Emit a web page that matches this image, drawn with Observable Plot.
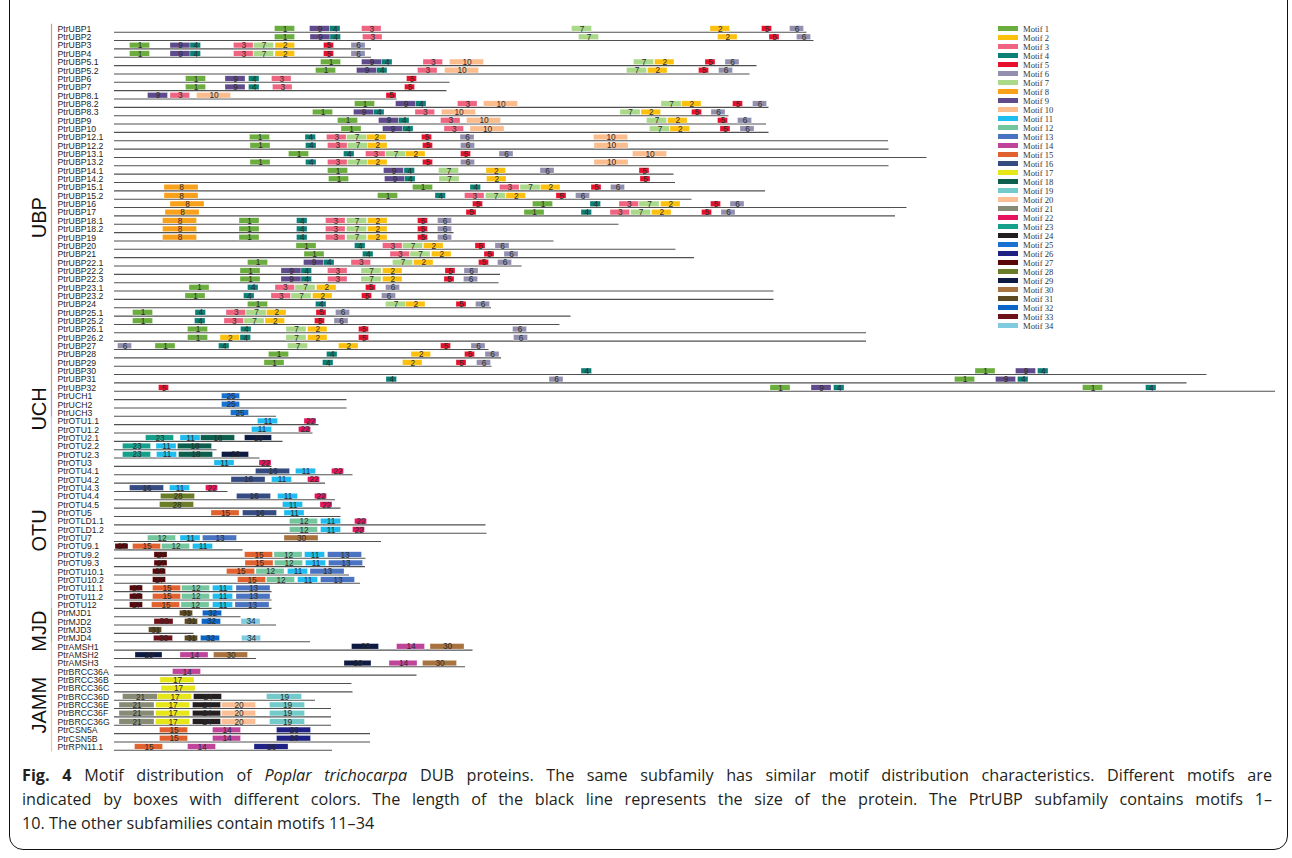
<!DOCTYPE html>
<html>
<head>
<meta charset="utf-8">
<script src="https://cdn.jsdelivr.net/npm/d3@7"></script>
<script src="https://cdn.jsdelivr.net/npm/@observablehq/plot@0.6"></script>
<style>
  html, body { margin: 0; padding: 0; background: #fff; }
  body { width: 1292px; height: 858px; position: relative; overflow: hidden; font-family: "Liberation Sans", Arial, sans-serif; }
  #frame { position: absolute; left: 9px; top: -20px; width: 1279px; height: 870px; border: 1.6px solid #111; border-radius: 14px; box-sizing: border-box; pointer-events: none; }
  #chart { position: absolute; left: 0; top: 0; }
  #legend { position: absolute; left: 998px; top: 24px; font-family: "Liberation Serif", "DejaVu Serif", serif; font-size: 8.6px; color: #333; }
  #legend .item { height: 9px; display: flex; align-items: center; white-space: nowrap; }
  #legend .sw { width: 20px; height: 5px; margin-right: 5px; }
  #caption { position: absolute; left: 22px; top: 763px; width: 1250px; font-family: "Open Sans", "Noto Sans", sans-serif; font-size: 16.2px; line-height: 24px; color: #231f20; }
  #caption .l { display: block; white-space: nowrap; }
  #caption .j { text-align: justify; text-align-last: justify; white-space: normal; }
</style>
</head>
<body>
<div id="chart"></div>
<div id="legend"></div>
<div id="caption">
  <span class="l j"><b>Fig. 4</b> Motif distribution of <i>Poplar trichocarpa</i> DUB proteins. The same subfamily has similar motif distribution characteristics. Different motifs are</span>
  <span class="l j">indicated by boxes with different colors. The length of the black line represents the size of the protein. The PtrUBP subfamily contains motifs 1–</span>
  <span class="l">10. The other subfamilies contain motifs 11–34</span>
</div>
<div id="frame"></div>
<script>
// Protein names, top to bottom
const proteins = [
  "PtrUBP1","PtrUBP2","PtrUBP3","PtrUBP4","PtrUBP5.1","PtrUBP5.2","PtrUBP6","PtrUBP7","PtrUBP8.1","PtrUBP8.2",
  "PtrUBP8.3","PtrUBP9","PtrUBP10","PtrUBP12.1","PtrUBP12.2","PtrUBP13.1","PtrUBP13.2","PtrUBP14.1","PtrUBP14.2","PtrUBP15.1",
  "PtrUBP15.2","PtrUBP16","PtrUBP17","PtrUBP18.1","PtrUBP18.2","PtrUBP19","PtrUBP20","PtrUBP21","PtrUBP22.1","PtrUBP22.2",
  "PtrUBP22.3","PtrUBP23.1","PtrUBP23.2","PtrUBP24","PtrUBP25.1","PtrUBP25.2","PtrUBP26.1","PtrUBP26.2","PtrUBP27","PtrUBP28",
  "PtrUBP29","PtrUBP30","PtrUBP31","PtrUBP32",
  "PtrUCH1","PtrUCH2","PtrUCH3",
  "PtrOTU1.1","PtrOTU1.2","PtrOTU2.1","PtrOTU2.2","PtrOTU2.3","PtrOTU3","PtrOTU4.1","PtrOTU4.2","PtrOTU4.3","PtrOTU4.4",
  "PtrOTU4.5","PtrOTU5","PtrOTLD1.1","PtrOTLD1.2","PtrOTU7","PtrOTU9.1","PtrOTU9.2","PtrOTU9.3","PtrOTU10.1","PtrOTU10.2",
  "PtrOTU11.1","PtrOTU11.2","PtrOTU12",
  "PtrMJD1","PtrMJD2","PtrMJD3","PtrMJD4",
  "PtrAMSH1","PtrAMSH2","PtrAMSH3","PtrBRCC36A","PtrBRCC36B","PtrBRCC36C","PtrBRCC36D","PtrBRCC36E","PtrBRCC36F","PtrBRCC36G",
  "PtrCSN5A","PtrCSN5B","PtrRPN11.1"
];

// Protein lengths (aa)
const lengths = [
  1385,1399,514,514,1285,1271,671,665,565,1309,
  1229,1304,1309,1548,1549,1625,1549,1119,1122,1302,
  1155,1585,1562,1009,679,879,1123,1160,815,772,
  769,1319,1319,754,913,891,1504,1504,749,774,
  755,2185,2145,2322,
  465,465,324,
  409,397,337,205,291,315,477,422,227,442,
  453,453,743,745,534,257,503,502,470,492,
  315,315,315,
  253,324,159,392,
  717,284,702,605,475,477,402,434,434,434,
  512,512,436
];

// Motif sites per protein: [motif number, start position (aa)]
const sites = [
  [[1,321],[9,391],[4,431],[3,495],[7,915],[2,1192],[5,1295],[6,1351]],
  [[1,321],[9,392],[4,432],[3,497],[7,929],[2,1207],[5,1310],[6,1365]],
  [[1,31],[9,112],[4,152],[3,239],[7,279],[2,322],[5,419],[6,474]],
  [[1,31],[9,112],[4,152],[3,239],[7,279],[2,322],[5,419],[6,474]],
  [[1,413],[9,495],[4,535],[3,618],[10,671],[7,1039],[2,1081],[5,1182],[6,1222]],
  [[1,403],[9,485],[4,525],[3,607],[10,661],[7,1025],[2,1067],[5,1169],[6,1209]],
  [[1,143],[9,222],[4,269],[3,315],[5,585]],
  [[1,143],[9,222],[4,269],[3,317],[5,581]],
  [[9,67],[3,112],[10,165],[5,544]],
  [[1,481],[9,563],[4,603],[3,687],[10,739],[7,1094],[2,1135],[5,1237],[6,1277]],
  [[1,397],[9,479],[4,519],[3,602],[10,655],[7,1012],[2,1054],[5,1155],[6,1194]],
  [[1,447],[9,529],[4,569],[3,653],[10,705],[7,1065],[2,1107],[5,1207],[6,1247]],
  [[1,454],[9,537],[4,577],[3,660],[10,712],[7,1071],[2,1112],[5,1212],[6,1252]],
  [[1,271],[4,382],[3,425],[7,465],[2,505],[5,615],[6,692],[10,959]],
  [[1,272],[4,383],[3,427],[7,467],[2,507],[5,617],[6,693],[10,960]],
  [[1,349],[4,459],[3,503],[7,543],[2,583],[5,693],[6,770],[10,1037]],
  [[1,272],[4,383],[3,427],[7,467],[2,507],[5,617],[6,693],[10,960]],
  [[1,427],[9,539],[4,580],[7,649],[2,744],[6,852],[5,1050]],
  [[1,429],[9,541],[4,581],[7,650],[2,745],[5,1052]],
  [[8,100],[1,597],[4,712],[3,771],[7,812],[2,853],[5,954],[6,993]],
  [[8,100],[1,527],[4,642],[3,701],[7,743],[2,784],[5,884],[6,923]],
  [[8,112],[5,717],[1,837],[4,952],[3,1010],[7,1050],[2,1093],[5,1193],[6,1232]],
  [[8,102],[5,704],[1,820],[4,934],[3,992],[7,1033],[2,1075],[5,1175],[6,1214]],
  [[8,97],[1,250],[4,365],[3,423],[7,465],[2,507],[5,607],[6,647]],
  [[8,97],[1,250],[4,365],[3,423],[7,465],[2,507],[5,607],[6,647]],
  [[8,97],[1,250],[4,365],[3,423],[7,465],[2,507],[5,607],[6,647]],
  [[1,364],[4,481],[3,537],[7,577],[2,619],[5,722],[6,762]],
  [[1,380],[4,497],[3,552],[7,592],[2,635],[5,740],[6,780]],
  [[1,267],[9,379],[4,419],[3,474],[7,557],[2,599],[5,729],[6,767]],
  [[1,252],[9,334],[4,374],[3,427],[7,494],[2,537],[5,662],[6,700]],
  [[1,252],[9,334],[4,374],[3,427],[7,494],[2,537],[5,660],[6,699]],
  [[1,150],[4,267],[3,322],[7,362],[2,405],[5,503],[6,543]],
  [[1,142],[4,259],[3,314],[7,354],[2,397],[5,495],[6,535]],
  [[1,267],[4,403],[7,543],[2,583],[5,684],[6,723]],
  [[1,37],[4,162],[3,224],[7,264],[2,305],[5,404],[6,443]],
  [[1,37],[4,161],[3,220],[7,260],[2,302],[5,401],[6,440]],
  [[1,147],[4,253],[7,344],[2,387],[5,489],[6,797]],
  [[1,147],[2,212],[4,252],[7,344],[2,387],[5,489],[6,799]],
  [[6,7],[1,82],[4,209],[7,347],[2,449],[5,653],[6,714]],
  [[1,309],[4,425],[2,594],[5,701],[6,742]],
  [[1,300],[4,417],[2,577],[5,684],[6,725]],
  [[4,934],[1,1722],[9,1803],[4,1847]],
  [[4,544],[6,870],[1,1681],[9,1763],[4,1807]],
  [[5,89],[1,1312],[9,1394],[4,1439],[1,1937],[4,2063]],
  [[25,215]],
  [[25,215]],
  [[25,233]],
  [[11,287],[22,380]],
  [[11,275],[22,369]],
  [[23,63],[11,132],[18,173],[29,261]],
  [[23,17],[11,84],[18,127]],
  [[23,17],[11,85],[18,129],[29,215]],
  [[11,200],[22,290]],
  [[16,283],[11,363],[22,435]],
  [[16,234],[11,315],[22,387]],
  [[16,31],[11,111],[22,183]],
  [[28,93],[16,245],[11,327],[22,401]],
  [[28,91],[11,337],[22,412]],
  [[15,194],[16,257],[11,340]],
  [[12,351],[11,413],[22,481]],
  [[12,351],[11,413],[22,477]],
  [[12,67],[11,132],[13,177],[30,340]],
  [[27,2],[15,37],[12,95],[11,157]],
  [[27,80],[15,261],[12,320],[11,381],[13,427]],
  [[27,80],[15,262],[12,321],[11,383],[13,429]],
  [[27,77],[15,225],[12,284],[11,347],[13,392]],
  [[27,77],[15,247],[12,305],[11,367],[13,413]],
  [[27,31],[15,77],[12,135],[11,197],[13,244]],
  [[27,31],[15,77],[12,135],[11,197],[13,244]],
  [[27,31],[15,75],[12,134],[11,197],[13,242]],
  [[31,131],[32,177]],
  [[33,80],[31,141],[32,175],[34,254]],
  [[31,69]],
  [[33,79],[31,141],[32,173],[34,255]],
  [[29,475],[14,565],[30,632]],
  [[29,42],[14,132],[30,199]],
  [[29,460],[14,550],[30,617]],
  [[14,117]],
  [[17,92]],
  [[17,94]],
  [[21,17],[17,87],[24,159],[19,305]],
  [[21,10],[17,83],[24,157],[20,215],[19,311]],
  [[21,10],[17,83],[24,157],[20,215],[19,311]],
  [[21,10],[17,83],[24,157],[20,215],[19,311]],
  [[15,91],[14,197],[26,325]],
  [[15,91],[14,197],[26,325]],
  [[15,41],[14,147],[26,280]]
];

// Motif widths (aa), motif 1..34
const motifLengths = [40,39,39,21,20,28,40,68,40,68,40,56,68,56,56,68,68,68,70,68,70,24,56,56,36,68,26,68,54,68,26,38,38,38];

// Subfamilies and how many proteins each holds (in order)
const subfamilies = ["UBP","UCH","OTU","MJD","JAMM"];
const subfamilySizes = [44,3,23,4,13];

// Styles
const motifColors = [
  "#6bad3f","#fcc10f","#ef6480","#0b8077","#e8112d","#938fae","#aad98a","#f9a11b","#5f4b8b","#fbbc8e",
  "#1fbcef","#74c69e","#4a73c1","#c1449b","#e2622f","#354b81","#e6e619","#0c5f4c","#72caca","#fcbf95",
  "#878b76","#e6145e","#14a08b","#231f20","#1972cf","#1f2185","#5a0508","#6b7c26","#0d1a42","#a9733f",
  "#5c4a1e","#0c66c8","#6d1219","#80cbe0"
];
const bracketColors = ["#ef8a8a","#9c9ad0","#a9d6ee","#8fca6f","#f7c39a"];
const labelNudge = [6, 1, 14, 2, 5]; // px shift of each subfamily label below its group's middle row

// ---- derived tables ----
const rows = proteins.map((name, i) => ({i, name, len: lengths[i]}));
const boxes = sites.flatMap((list, i) => list.map(([m, s]) => ({i, motif: m, x1: s, x2: s + motifLengths[m - 1]})));
let acc = 0;
const groups = subfamilies.map((name, k) => {
  const first = acc, last = acc + subfamilySizes[k] - 1;
  acc += subfamilySizes[k];
  return {name, first, last, mid: (first + last) / 2, color: bracketColors[k], nudge: labelNudge[k]};
});

const chart = Plot.plot({
  width: 1292,
  height: 760,
  style: {fontFamily: "'Liberation Sans', Arial, sans-serif", background: "transparent"},
  x: {domain: [0, 2340], range: [114, 1284], axis: null},
  y: {domain: [0, proteins.length - 1], range: [31.7, 31.7 + 8.35 * (proteins.length - 1)], axis: null},
  marks: [
    // protein backbone
    Plot.ruleY(rows, {y: "i", x1: 0, x2: "len", stroke: "#505050", strokeWidth: 1.1}),
    // motif boxes
    Plot.rect(boxes, {
      x1: "x1", x2: "x2",
      y1: d => d.i - 0.72, y2: d => d.i - 0.06,
      fill: d => motifColors[d.motif - 1],
      stroke: "#fff", strokeWidth: 0.5, strokeOpacity: 0.6
    }),
    Plot.text(boxes, {
      x: d => (d.x1 + d.x2) / 2, y: d => d.i - 0.39,
      text: d => String(d.motif), fontSize: 8.3, fill: "#2b2b2b"
    }),
    // protein names
    Plot.text(rows, {x: 0, y: "i", dx: -57, dy: -3.2, text: "name", textAnchor: "start", fontSize: 8.7, fill: "#1e1e1e"}),
    // subfamily brackets
    Plot.ruleX(groups, {x: 0, dx: -63, y1: d => d.first - 0.95, y2: d => d.last + 0.2, stroke: "color", strokeWidth: 1.2}),
    // subfamily labels
    Plot.text(groups, {x: 0, dx: -75, y: d => d.mid + d.nudge / 8.35, text: "name", rotate: -90, fontSize: 20, fill: "#111"})
  ]
});
document.getElementById("chart").appendChild(chart);

// Motif legend
const legend = d3.select("#legend");
motifColors.forEach((c, k) => {
  const item = legend.append("div").attr("class", "item");
  item.append("div").attr("class", "sw").style("background", c);
  item.append("span").text(`Motif ${k + 1}`);
});
</script>
</body>
</html>
